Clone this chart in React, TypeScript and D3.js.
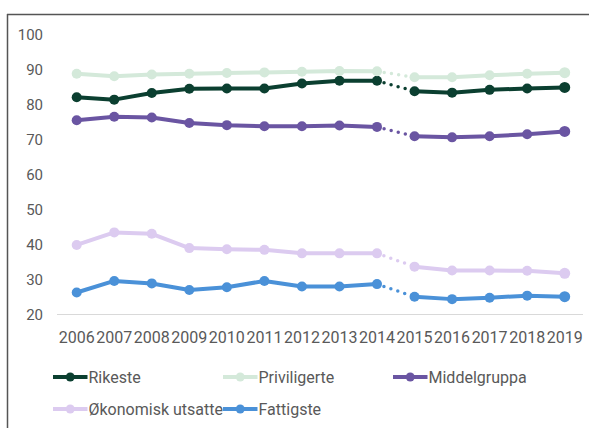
import React from "react";
import * as d3 from "d3";

const years = [2006, 2007, 2008, 2009, 2010, 2011, 2012, 2013, 2014, 2015, 2016, 2017, 2018, 2019];
const yTicks = [20, 30, 40, 50, 60, 70, 80, 90, 100];

const rikeste = [82.2, 81.5, 83.4, 84.6, 84.7, 84.7, 86.1, 86.9, 86.9, 83.9, 83.5, 84.3, 84.7, 85];
const priviligerte = [88.9, 88.2, 88.7, 88.9, 89.1, 89.3, 89.5, 89.7, 89.6, 87.9, 87.9, 88.5, 88.9, 89.2];
const middelgruppa = [75.6, 76.6, 76.4, 74.8, 74.2, 73.9, 73.9, 74.1, 73.7, 71, 70.7, 71, 71.6, 72.4];
const okonomisk = [39.9, 43.5, 43.1, 39, 38.7, 38.5, 37.5, 37.5, 37.5, 33.7, 32.6, 32.6, 32.5, 31.8];
const fattigste = [26.3, 29.6, 28.9, 27, 27.8, 29.6, 28, 28, 28.7, 25.1, 24.4, 24.8, 25.4, 25.1];

const seriesNames = ["Rikeste", "Priviligerte", "Middelgruppa", "Økonomisk utsatte", "Fattigste"];
const seriesColors = ["#0b3f30", "#d4e9da", "#6a55a2", "#dccbf0", "#4a91d8"];
const seriesValues = [rikeste, priviligerte, middelgruppa, okonomisk, fattigste];

const W = 589, H = 428;
const font = "Roboto, 'Liberation Sans', sans-serif";
const textColor = "#595959";

export default function App() {
  const x = d3.scalePoint<number>().domain(years).range([76.7, 564.7]);
  const y = d3.scaleLinear().domain([20, 100]).range([314.5, 35]);
  const breakIdx = years.indexOf(2014);

  const legendPos = [
    { x: 53, y: 377 }, { x: 223, y: 377 }, { x: 393, y: 377 },
    { x: 53, y: 409 }, { x: 223, y: 409 },
  ];

  return (
    <svg width={W} height={H} style={{ position: "absolute", left: 0, top: 0 }}>
      <rect width={W} height={H} fill="#fff" />
      <line x1={7.5} y1={14} x2={7.5} y2={H} stroke="#555" strokeWidth={1.5} />
      <line x1={7} y1={14.5} x2={W} y2={14.5} stroke="#555" strokeWidth={1.5} />
      {yTicks.map((t) => (
        <text key={t} x={43} y={y(t)} dy="0.35em" textAnchor="end" fontFamily={font} fontSize={15} fill={textColor}>{t}</text>
      ))}
      <line x1={57} x2={583} y1={y(20)} y2={y(20)} stroke="#d9d9d9" strokeWidth={1} />
      {years.map((yr) => (
        <text key={yr} x={x(yr)} y={337} dy="0.35em" textAnchor="middle" fontFamily={font} fontSize={16} fill={textColor}>{yr}</text>
      ))}
      {seriesValues.map((vals, si) => {
        const c = seriesColors[si];
        const a = vals.slice(0, breakIdx + 1);
        const b = vals.slice(breakIdx + 1);
        const lineA = d3.line<number>().x((_, i) => x(years[i])!).y((d) => y(d));
        const lineB = d3.line<number>().x((_, i) => x(years[i + breakIdx + 1])!).y((d) => y(d));
        const gap = d3.line<number>().x((_, i) => x(years[i + breakIdx])!).y((d) => y(d));
        return (
          <g key={si}>
            <path d={lineA(a)!} fill="none" stroke={c} strokeWidth={4} strokeLinejoin="round" />
            <path d={lineB(b)!} fill="none" stroke={c} strokeWidth={4} strokeLinejoin="round" />
            <path d={gap([vals[breakIdx], vals[breakIdx + 1]])!} fill="none" stroke={c} strokeWidth={3.5} strokeLinecap="round" strokeDasharray="0 7.3" />
            {vals.map((v, i) => (
              <circle key={i} cx={x(years[i])} cy={y(v)} r={i === vals.length - 1 ? 5.5 : 5} fill={c} />
            ))}
          </g>
        );
      })}
      {seriesNames.map((n, i) => {
        const p = legendPos[i];
        return (
          <g key={n}>
            <line x1={p.x} x2={p.x + 34.5} y1={p.y} y2={p.y} stroke={seriesColors[i]} strokeWidth={4} />
            <circle cx={p.x + 17.25} cy={p.y} r={4.5} fill={seriesColors[i]} />
            <text x={p.x + 35.5} y={p.y} dy="0.35em" fontFamily={font} fontSize={16} fill={textColor}>{n}</text>
          </g>
        );
      })}
    </svg>
  );
}
